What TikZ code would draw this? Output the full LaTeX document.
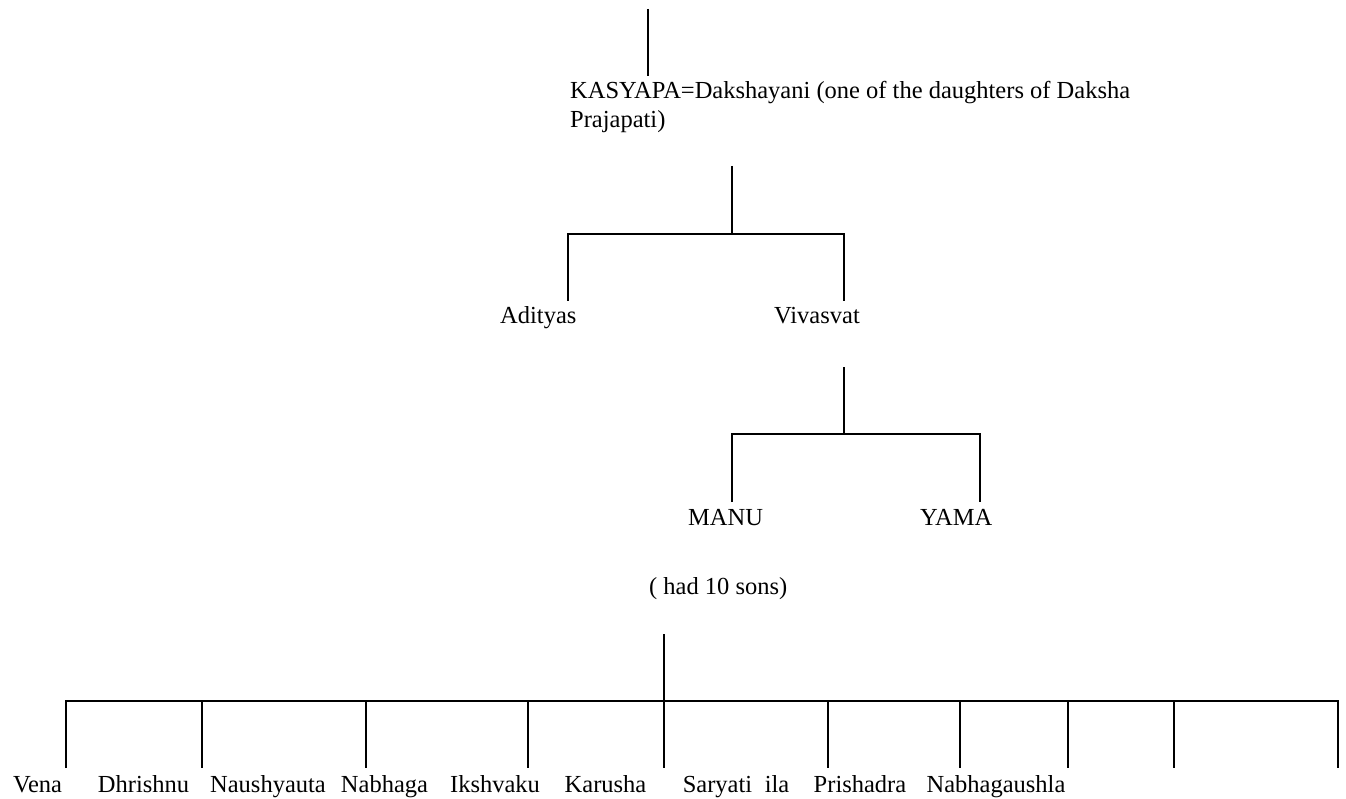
\documentclass[tikz,border=0pt]{standalone}
\usepackage{fontspec}
\setmainfont{Liberation Serif}

\begin{document}
\begin{tikzpicture}[x=1pt,y=-1pt,line width=2.4pt,
                    font=\fontsize{24.5}{29}\selectfont]
		  \tikzstyle{person}=[anchor=base west,inner sep=0pt]
		  \tikzstyle{sonlabel}=[anchor=base,inner sep=0pt]
		  \useasboundingbox (0,0) rectangle (1346,799);

		  % Kasyapa and his wife
		  \coordinate (k0) at (648,9);
		  \coordinate (k1) at (648,76);
		  \node[person] (kasyapa)   at (569,99)  {KASYAPA=Dakshayani (one of the daughters of Daksha};
		  \node[person] (prajapati) at (569,128) {Prajapati)};
		  \draw (k0) -- (k1);

		  % their sons
		  \coordinate (a0) at (732,166);
		  \coordinate (a1) at (732,234);
		  \coordinate (aL) at (568,301);
		  \coordinate (aR) at (844,301);
		  \node[person] (adityas)  at (499,324) {Adityas};
		  \node[person] (vivasvat) at (773,324) {Vivasvat};
		  \draw (a0) -- (a1);
		  \draw (aL) |- (a1) -| (aR);

		  % sons of Vivasvat
		  \coordinate (v0) at (844,367);
		  \coordinate (v1) at (844,434);
		  \coordinate (vL) at (732,502);
		  \coordinate (vR) at (980,502);
		  \node[person] (manu) at (687,525) {MANU};
		  \node[person] (yama) at (919,525) {YAMA};
		  \draw (v0) -- (v1);
		  \draw (vL) |- (v1) -| (vR);
		  \node[person] (tensons) at (648,594) {( had 10 sons)};

		  % the ten sons of Manu
		  \coordinate (m0) at (664,634);
		  \coordinate (m1) at (664,701);
		  \draw (m0) -- (m1);
		  \draw (66,768) coordinate (s1) |- (m1) -| (1338,768) coordinate (s10);
		  \foreach \x [count=\i from 2] in {202,366,528,664,828,960,1068,1174}
		    \draw (\x,701) coordinate (t\i) -- (\x,768) coordinate (s\i);

		  \node[sonlabel] (vena)       at (37.5,792) {Vena};
		  \node[sonlabel] (dhrishnu)   at (143.5,792) {Dhrishnu};
		  \node[sonlabel] (naushyauta) at (268,792) {Naushyauta};
		  \node[sonlabel] (nabhaga)    at (384.5,792) {Nabhaga};
		  \node[sonlabel] (ikshvaku)   at (495,792) {Ikshvaku};
		  \node[sonlabel] (karusha)    at (605.5,792) {Karusha};
		  \node[sonlabel] (saryati)    at (717.5,792) {Saryati};
		  \node[sonlabel] (ila)        at (777,792) {ila};
		  \node[sonlabel] (prishadra)  at (860,792) {Prishadra};
		  \node[sonlabel] (nabhagaushla) at (996,792) {Nabhagaushla};
		\end{tikzpicture}
\end{document}
